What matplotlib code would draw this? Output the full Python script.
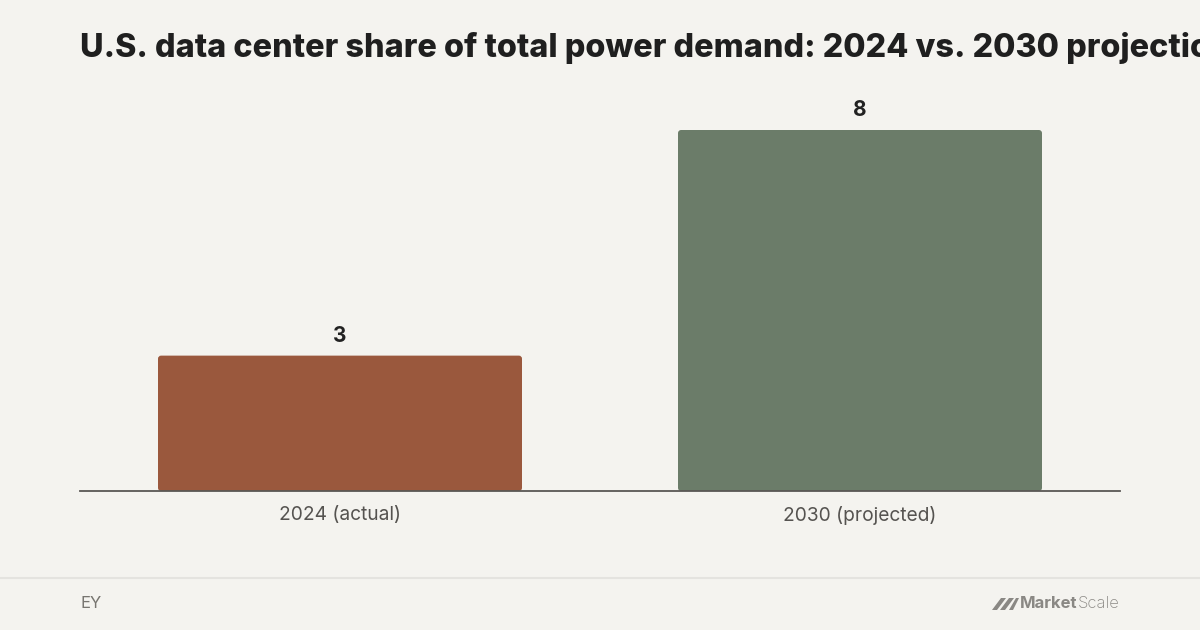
import matplotlib
matplotlib.use("Agg")
import matplotlib.pyplot as plt
from matplotlib.patches import FancyBboxPatch, Polygon
from matplotlib.lines import Line2D

categories = ["2024 (actual)", "2030 (projected)"]
values = [3, 8]
colors = ["#9A583D", "#6B7C69"]
title = "U.S. data center share of total power demand: 2024 vs. 2030 projections (%)"
source = "EY"

BG = "#F4F3EF"
W, H = 1200, 630
fig = plt.figure(figsize=(W / 100, H / 100), dpi=100, facecolor=BG)

# axes: x 80..1120 px, y baseline 491 px, top ~95 px
ax_l, ax_r = 80, 1120
ax_b, ax_t = 491, 95
ax = fig.add_axes([ax_l / W, 1 - ax_b / H, (ax_r - ax_l) / W, (ax_b - ax_t) / H])
ax.set_facecolor(BG)
px_per_unit = (491 - 130) / 8.0
ax.set_xlim(-0.5, 1.5)
ax.set_ylim(0, (ax_b - ax_t) / px_per_unit)

bars = ax.bar(range(len(values)), values, width=0.70, color=colors)
x_px_per_unit = (ax_r - ax_l) / 2.0
aspect = (1 / px_per_unit) / (1 / x_px_per_unit)
for b, c in zip(bars, colors):
    b.set_visible(False)
    p = FancyBboxPatch((b.get_x(), b.get_y()), b.get_width(), b.get_height(),
                       boxstyle="round,pad=0,rounding_size=0.006",
                       mutation_aspect=aspect, facecolor=c, edgecolor="none",
                       zorder=2)
    ax.add_patch(p)
    ax.annotate(f"{b.get_height():g}", (b.get_x() + b.get_width() / 2, b.get_height()),
                xytext=(0, 7), textcoords="offset points", ha="center", va="bottom",
                fontsize=15, fontweight="bold", color="#222222", family="Inter")

for s in ["top", "right", "left"]:
    ax.spines[s].set_visible(False)
ax.spines["bottom"].set_color("#5A5754")
ax.spines["bottom"].set_linewidth(1.3)
ax.spines["bottom"].set_zorder(3)
ax.set_yticks([])
ax.set_xticks(range(len(categories)))
ax.set_xticklabels(categories, fontsize=13.8, color="#555350", family="Inter")
ax.tick_params(axis="x", length=0, pad=11)

# title (clipped at the right edge as in the reference)
fig.text(80 / W, 1 - 48 / H, title, fontsize=23.3, fontweight="heavy",
         color="#1F1F1F", family="Inter", ha="left", va="center")

# footer separator
fig.add_artist(Line2D([0, 1], [1 - 577.5 / H, 1 - 577.5 / H], color="#E4E3DF",
                      linewidth=1.5, transform=fig.transFigure))
fig.text(80 / W, 1 - 603 / H, source, fontsize=12, color="#777570",
         family="Inter", ha="left", va="center")

# MarketScale logo
logo_col = "#8A8884"
def fp(x, y):
    return (x / W, 1 - y / H)
for x0 in (992, 1000):
    fig.add_artist(Polygon([fp(x0, 610), fp(x0 + 5, 610), fp(x0 + 14, 598), fp(x0 + 9, 598)],
                           closed=True, facecolor=logo_col, edgecolor="none",
                           transform=fig.transFigure))
fig.add_artist(Polygon([fp(1009, 610), fp(1013, 610), fp(1019, 598), fp(1016, 598)],
                       closed=True, facecolor=logo_col, edgecolor="none",
                       transform=fig.transFigure))
t1 = fig.text(1020 / W, 1 - 604 / H, "Market", fontsize=12, fontweight="bold",
              color=logo_col, family="Inter", ha="left", va="center")
fig.canvas.draw()
bb = t1.get_window_extent()
fig.text((bb.x1) / W, 1 - 604 / H, "Scale", fontsize=12, fontweight="light",
         color=logo_col, family="Inter", ha="left", va="center")

fig.savefig("out.png", dpi=100, facecolor=BG)
